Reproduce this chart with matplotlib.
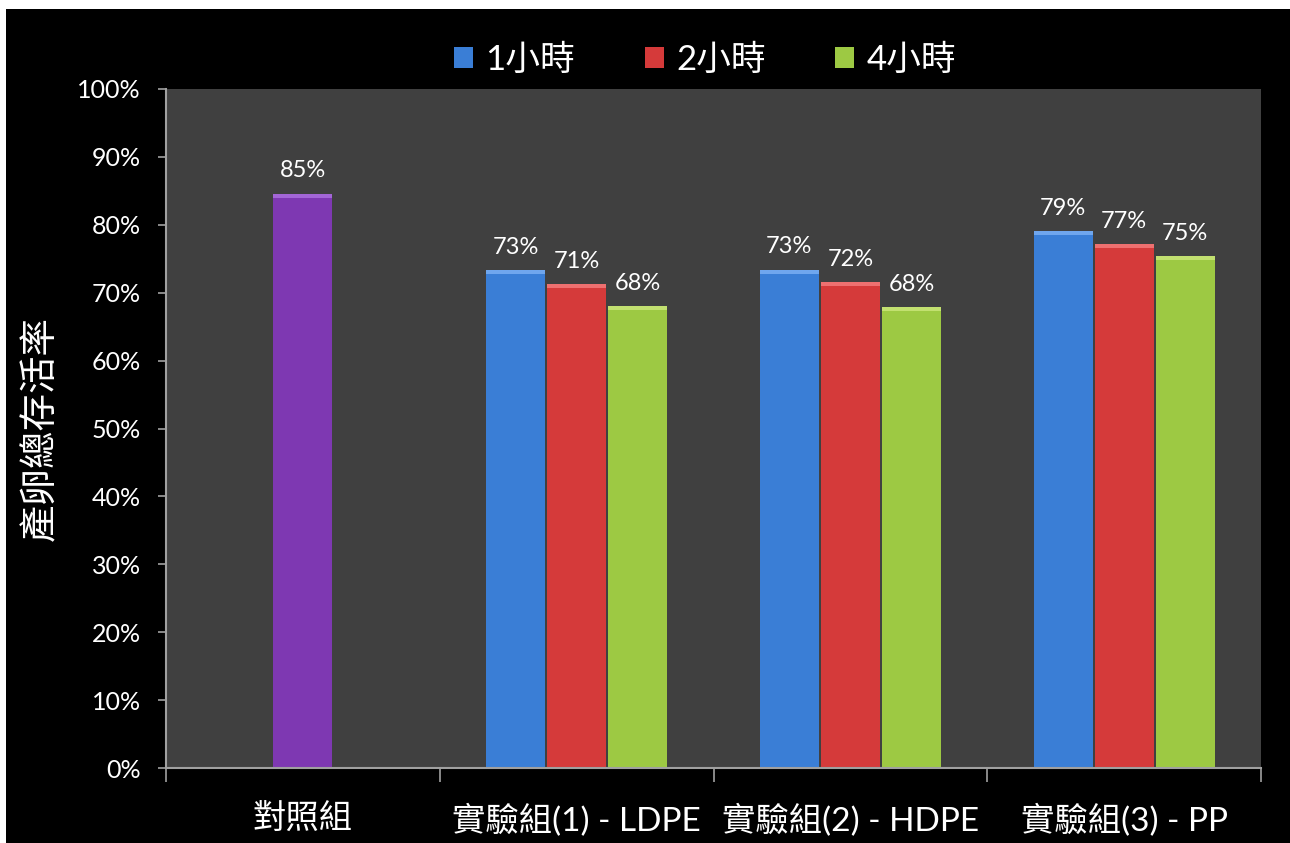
import matplotlib
matplotlib.use("Agg")
import matplotlib.pyplot as plt
from matplotlib.patches import Rectangle, Patch
from matplotlib.ticker import PercentFormatter, FixedLocator
import numpy as np

plt.rcParams['font.family'] = ['Lato', 'Noto Sans CJK TC', 'DejaVu Sans']

categories = ['對照組', '實驗組(1) - LDPE', '實驗組(2) - HDPE', '實驗組(3) - PP']
series_names = ['1小時', '2小時', '4小時']
control_value = 0.846
values_1h = [0.733, 0.734, 0.791]
values_2h = [0.713, 0.716, 0.772]
values_4h = [0.680, 0.679, 0.754]
y_ticks = [i / 10 for i in range(11)]

colors = ['#3a7ed6', '#d53a3a', '#9dc943']
highlights = ['#6fa6ee', '#ee7070', '#c2e070']
purple = '#7e38b2'
purple_hi = '#a366d6'

fig = plt.figure(figsize=(12.9, 8.43), dpi=100)
fig.patch.set_facecolor('white')
fig.patches.append(Rectangle((6 / 1290, 0), 1, 1 - 9 / 843, transform=fig.transFigure,
                             facecolor='black', edgecolor='none', zorder=-10))

ax = fig.add_axes([166 / 1290, 75 / 843, (1261 - 166) / 1290, (768 - 89) / 843])
ax.set_facecolor('#404040')

bw = 0.215
step = 0.223
label_kw = dict(ha='center', va='bottom', color='white', fontsize=17)

# control bar
ax.bar(0, control_value, width=bw, color=purple, zorder=2)
ax.bar(0, 0.006, bottom=control_value - 0.006, width=bw, color=purple_hi, zorder=3)
ax.text(0, control_value + 0.018, f"{round(control_value * 100):.0f}%", **label_kw)

groups = [values_1h, values_2h, values_4h]
for s, vals in enumerate(groups):
    xs = np.arange(1, 4) + (s - 1) * step
    ax.bar(xs, vals, width=bw, color=colors[s], zorder=2)
    ax.bar(xs, [0.006] * len(vals), bottom=[v - 0.006 for v in vals], width=bw,
           color=highlights[s], zorder=3)
    for x, v in zip(xs, vals):
        ax.text(x, v + 0.018, f"{round(v * 100):.0f}%", **label_kw)

ax.set_xlim(-0.5, 3.5)
ax.set_ylim(0, 1)
ax.set_yticks(y_ticks)
ax.yaxis.set_major_formatter(PercentFormatter(1.0, decimals=0))
ax.set_xticks(range(4))
ax.set_xticklabels(categories)
ax.xaxis.set_minor_locator(FixedLocator([-0.5, 0.5, 1.5, 2.5, 3.5]))

ax.tick_params(axis='y', colors='#a0a0a0', labelcolor='white', labelsize=18,
               length=6, width=1.2, direction='out', pad=12)
ax.tick_params(axis='x', which='major', length=0, labelcolor='white', labelsize=24, pad=26)
ax.tick_params(axis='x', which='minor', length=10, width=1.2, color='#a0a0a0')

for sp in ['top', 'right']:
    ax.spines[sp].set_visible(False)
for sp in ['left', 'bottom']:
    ax.spines[sp].set_color('#a0a0a0')
    ax.spines[sp].set_linewidth(1.5)

ax.set_ylabel('產卵總存活率', color='white', fontsize=27, labelpad=14)

handles = [Patch(facecolor=c, edgecolor='none') for c in colors]
fig.legend(handles, series_names, loc='center', bbox_to_anchor=(705 / 1290, 1 - 60 / 843),
           ncol=3, frameon=False, fontsize=25, labelcolor='white',
           handlelength=0.55, handleheight=0.55, handletextpad=0.35, columnspacing=2.0)

fig.savefig('out.png', dpi=100, facecolor=fig.get_facecolor())
